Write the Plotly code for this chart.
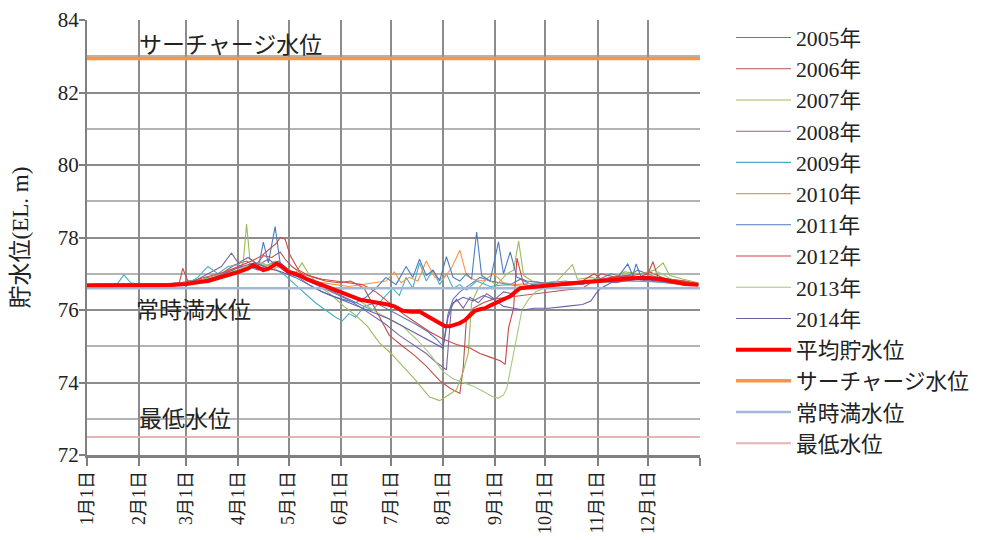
import plotly.graph_objects as go

FONT = "Liberation Serif, Noto Sans CJK JP, serif"

month_days = [0, 31, 59, 90, 120, 151, 181, 212, 243, 273, 304, 334, 365]
month_labels = ["1月1日", "2月1日", "3月1日", "4月1日", "5月1日", "6月1日",
                "7月1日", "8月1日", "9月1日", "10月1日", "11月1日", "12月1日", ""]

years = ["2005年", "2006年", "2007年", "2008年", "2009年",
         "2010年", "2011年", "2012年", "2013年", "2014年"]
year_colors = ["#5b7fb2", "#c0504d", "#9bbb59", "#8064a2", "#4bacc6",
               "#f79646", "#4a7bc4", "#d04545", "#a6c77f", "#6a5fa8"]

d2005 = [0,12,25,31,45,56,60,66,72,78,84,90,96,102,108,114,120,126,132,138,145,152,158,165,172,180,188,196,203,208,212,215,218,222,228,234,240,246,252,258,265,275,285,295,305,312,320,328,336,344,352,364]
v2005 = [76.70,76.70,76.71,76.70,76.72,76.75,76.80,76.78,76.90,76.85,77.00,77.05,77.20,77.10,77.25,77.35,77.10,76.95,76.85,76.70,76.55,76.40,76.25,76.10,76.20,76.00,75.80,75.60,75.40,75.20,75.00,75.90,76.30,76.50,76.70,76.90,76.80,76.75,76.70,76.85,76.70,76.75,76.80,76.70,76.85,77.00,76.90,77.10,76.95,76.85,76.80,76.72]

d2006 = [0,15,31,45,55,57,60,70,80,88,95,100,105,110,115,118,122,128,135,142,150,157,165,172,180,188,195,202,210,216,222,224,226,230,236,242,250,258,266,275,285,295,300,306,315,325,335,345,355,364]
v2006 = [76.70,76.70,76.69,76.70,76.75,77.15,76.80,76.85,77.00,77.25,77.35,77.20,77.50,77.45,77.60,77.40,77.20,77.00,76.90,76.80,76.75,76.80,76.60,76.00,75.30,75.00,74.75,74.45,74.05,73.85,73.70,74.40,75.80,76.05,76.20,76.30,76.35,76.40,76.45,76.50,76.55,76.60,76.75,77.00,76.90,76.95,77.05,76.85,76.80,76.72]

d2007 = [0,15,31,45,59,65,72,80,86,90,93,95,97,100,106,112,118,124,128,132,139,146,153,160,167,174,181,188,195,204,210,215,220,224,227,229,233,238,244,250,254,257,260,265,272,280,289,292,300,310,320,330,338,343,347,355,364]
v2007 = [76.70,76.70,76.70,76.71,76.72,76.80,76.85,77.00,77.10,77.05,77.30,78.37,77.40,77.30,77.20,77.35,77.10,77.00,77.30,77.00,76.63,76.40,76.10,75.85,75.55,75.10,74.80,74.45,74.10,73.60,73.50,73.65,73.80,74.30,74.80,76.20,76.60,76.85,76.70,77.00,77.10,77.90,76.95,76.80,76.75,76.80,77.25,76.85,76.90,76.80,77.05,77.00,77.10,77.30,76.95,76.85,76.75]

d2008 = [0,15,31,45,59,66,74,80,86,90,96,102,108,114,120,127,134,141,148,155,162,170,178,186,194,202,208,214,217,220,224,228,233,238,243,248,253,258,265,275,285,295,305,315,325,335,345,355,364]
v2008 = [76.70,76.70,76.71,76.70,76.73,76.85,77.05,77.20,77.57,77.30,77.45,77.25,77.40,77.20,77.00,76.90,76.75,76.60,76.45,76.30,76.10,75.85,75.60,75.30,75.05,74.80,74.55,74.35,76.10,76.30,76.05,76.35,76.20,76.45,76.30,76.50,76.45,76.60,76.65,76.70,76.68,76.72,76.80,76.75,76.85,76.80,76.75,76.70,76.70]

d2009 = [0,10,18,22,26,31,45,59,66,72,78,84,90,96,102,108,113,118,124,130,136,142,148,152,156,160,165,170,176,182,186,190,194,198,202,206,210,214,218,222,226,232,240,250,260,275,290,305,320,335,350,364]
v2009 = [76.70,76.70,76.72,76.97,76.75,76.70,76.70,76.72,76.90,77.20,77.00,77.20,77.25,77.10,77.30,77.15,77.10,76.95,76.70,76.45,76.20,76.00,75.80,75.70,75.90,75.80,76.10,76.00,76.30,76.60,76.40,76.90,76.60,77.30,76.80,77.10,76.70,77.00,76.60,76.70,76.55,76.80,76.65,76.70,76.65,76.70,76.72,76.75,76.80,76.78,76.75,76.70]

d2010 = [0,15,31,45,59,66,72,80,88,96,104,110,116,122,128,134,140,148,156,164,172,178,183,187,192,197,202,207,212,217,222,226,230,236,242,248,255,262,270,280,290,300,310,320,330,340,350,364]
v2010 = [76.70,76.70,76.70,76.70,76.72,76.78,76.85,77.00,77.15,77.20,77.30,77.10,77.25,77.05,76.95,76.80,76.75,76.70,76.65,76.70,76.75,76.80,77.05,76.75,76.90,76.80,77.35,76.90,76.85,77.15,77.65,76.95,76.85,76.80,77.00,76.75,76.70,76.72,76.75,76.70,76.78,76.80,76.85,76.90,76.85,76.80,76.75,76.70]

d2011 = [0,15,31,45,59,68,76,84,92,98,102,105,108,112,115,120,126,132,138,145,152,160,166,172,178,184,190,194,198,202,206,210,214,218,222,226,229,232,235,240,245,248,252,256,262,270,280,290,300,310,316,322,325,327,330,338,348,356,364]
v2011 = [76.70,76.70,76.70,76.70,76.72,76.80,76.90,77.00,77.10,77.25,77.15,77.87,77.30,78.30,77.30,77.10,76.90,76.70,76.55,76.40,76.30,76.20,76.35,76.60,76.90,76.70,77.20,76.90,77.40,76.95,77.10,76.80,77.47,76.90,76.80,77.00,76.85,78.15,76.95,76.80,77.88,77.00,77.60,76.90,76.80,76.75,76.72,76.75,76.80,76.85,76.90,77.27,76.95,77.27,76.90,76.85,76.80,76.75,76.70]

d2012 = [0,15,31,45,59,66,74,82,90,98,104,110,113,115,118,121,126,132,140,148,156,164,172,180,188,196,204,212,220,228,234,240,246,249,251,254,256,260,266,275,285,295,302,306,312,320,328,334,337,340,348,356,364]
v2012 = [76.70,76.70,76.70,76.70,76.72,76.85,76.95,77.05,77.20,77.35,77.50,77.75,77.85,78.00,77.95,77.50,77.10,76.95,76.85,76.80,76.75,76.70,76.50,76.20,75.90,75.65,75.40,75.20,75.05,74.95,74.80,74.70,74.60,74.50,75.50,76.05,77.43,76.70,76.65,76.70,76.75,76.80,77.00,76.85,76.90,76.95,76.90,77.00,77.33,76.90,76.85,76.80,76.72]

d2013 = [0,15,31,45,59,66,74,82,90,98,104,110,116,122,128,134,140,148,156,164,172,180,188,196,204,212,218,224,230,236,242,245,248,250,253,256,259,263,267,272,280,290,300,310,320,330,340,350,364]
v2013 = [76.70,76.70,76.70,76.70,76.72,76.80,76.90,77.00,77.10,77.25,77.30,77.20,77.15,77.05,76.95,76.80,76.70,76.55,76.40,76.20,75.95,75.75,75.55,75.20,74.80,74.30,74.10,74.00,73.90,73.75,73.60,73.57,73.65,73.85,74.60,75.30,76.00,76.30,76.50,76.60,76.70,76.72,76.80,76.85,76.90,76.85,77.05,76.80,76.70]

d2014 = [0,15,31,45,59,68,76,84,92,100,108,116,124,132,140,148,156,164,172,180,188,196,204,208,212,215,218,224,230,236,242,248,254,260,266,275,285,295,300,303,306,312,320,330,340,350,364]
v2014 = [76.70,76.70,76.70,76.70,76.72,76.80,76.90,77.05,77.20,77.30,77.15,77.05,76.90,76.70,76.50,76.35,76.20,76.05,75.90,75.75,75.55,75.35,75.15,75.05,74.95,75.80,76.20,76.35,76.25,76.40,76.30,76.10,76.05,76.00,76.05,76.05,76.10,76.15,76.25,76.45,76.60,76.75,76.80,76.85,76.80,76.75,76.70]

days_avg = [0,10,20,31,40,50,59,64,68,72,76,80,84,88,92,96,99,102,105,108,111,113,116,120,124,127,131,135,139,143,147,151,155,159,163,167,171,175,179,183,188,193,198,202,206,210,213,216,219,222,225,228,231,234,237,240,244,248,252,255,258,262,268,275,282,290,298,305,312,320,328,335,342,349,356,364]
avg_level = [76.68,76.68,76.69,76.68,76.69,76.69,76.72,76.74,76.78,76.80,76.85,76.90,76.95,77.02,77.08,77.15,77.24,77.18,77.10,77.14,77.22,77.28,77.20,77.05,77.00,76.95,76.85,76.78,76.70,76.62,76.55,76.48,76.42,76.35,76.28,76.25,76.22,76.20,76.15,76.10,75.98,75.95,75.96,75.85,75.75,75.62,75.56,75.55,75.60,75.64,75.72,75.85,75.98,76.02,76.05,76.12,76.20,76.30,76.38,76.50,76.60,76.62,76.65,76.68,76.72,76.75,76.78,76.80,76.84,76.86,76.88,76.88,76.85,76.78,76.72,76.70]

surcharge_level = 82.94
normal_level = 76.6
minimum_level = 72.5

year_days = [d2005, d2006, d2007, d2008, d2009, d2010, d2011, d2012, d2013, d2014]
year_vals = [v2005, v2006, v2007, v2008, v2009, v2010, v2011, v2012, v2013, v2014]

fig = go.Figure()

full = [0, 365]
fig.add_trace(go.Scatter(x=full, y=[minimum_level]*2, mode="lines", name="最低水位",
                         line=dict(color="#e6b3b3", width=2), legendrank=14, legendgroup="g14"))
fig.add_trace(go.Scatter(x=full, y=[surcharge_level]*2, mode="lines", name="サーチャージ水位",
                         line=dict(color="#f79646", width=3.5), legendrank=12, legendgroup="g12"))

for i, (nm, dx, vy) in enumerate(zip(years, year_days, year_vals)):
    fig.add_trace(go.Scatter(x=dx, y=vy, mode="lines", name=nm,
                             line=dict(color=year_colors[i], width=1.1),
                             legendrank=i + 1, legendgroup=f"g{i}"))

fig.add_trace(go.Scatter(x=full, y=[normal_level]*2, mode="lines", name="常時満水位",
                         line=dict(color="#a3b8d8", width=2.5), legendrank=13, legendgroup="g13"))
fig.add_trace(go.Scatter(x=days_avg, y=avg_level, mode="lines", name="平均貯水位",
                         line=dict(color="#ff0000", width=4), legendrank=11, legendgroup="g11"))

ann_font = dict(family=FONT, size=23, color="#222222")
fig.add_annotation(x=29.8, y=83.31, text="サーチャージ水位", showarrow=False,
                   xanchor="left", yanchor="middle", font=ann_font)
fig.add_annotation(x=28.0, y=76.0, text="常時満水位", showarrow=False,
                   xanchor="left", yanchor="middle", font=ann_font)
fig.add_annotation(x=29.8, y=72.97, text="最低水位", showarrow=False,
                   xanchor="left", yanchor="middle", font=ann_font)

# page has an 8px body margin; figure sized to fit the 986x540 window
fig.update_layout(
    width=978, height=532,
    margin=dict(l=79, r=286, t=12, b=85, autoexpand=False),
    paper_bgcolor="white", plot_bgcolor="white",
    template="none",
    font=dict(family=FONT, size=20, color="#222222"),
    showlegend=True,
    legend=dict(x=1.0506, xanchor="left", y=1.007, yanchor="top",
                font=dict(family=FONT, size=21.7, color="#222222"),
                tracegroupgap=0, itemwidth=55, bgcolor="rgba(0,0,0,0)", maxheight=520),
    xaxis=dict(range=[0, 365], tickmode="array", tickvals=month_days, ticktext=month_labels,
               tickangle=-90, ticks="outside", ticklen=8, tickcolor="#808080", tickwidth=1.5,
               ticklabelstandoff=-2,
               showgrid=True, gridcolor="#8c8c8c", gridwidth=1.5,
               showline=True, linecolor="#808080", linewidth=2.5,
               zeroline=False, automargin=False,
               tickfont=dict(family=FONT, size=18, color="#222222")),
    yaxis=dict(range=[72, 84], tickmode="linear", tick0=72, dtick=2,
               ticks="outside", ticklen=6, tickcolor="#808080", tickwidth=1.5,
               ticklabelstandoff=-4,
               showgrid=True, gridcolor="#8c8c8c", gridwidth=1.5,
               minor=dict(dtick=1, tick0=72, showgrid=True, gridcolor="#b4b4b4", gridwidth=1.5, ticks=""),
               showline=True, linecolor="#808080", linewidth=2,
               zeroline=False, automargin=False,
               title=dict(text="貯水位(EL. m)", standoff=30, font=dict(family=FONT, size=23, color="#222222")),
               tickfont=dict(family=FONT, size=21, color="#222222")),
)

fig.write_html("out.html")
